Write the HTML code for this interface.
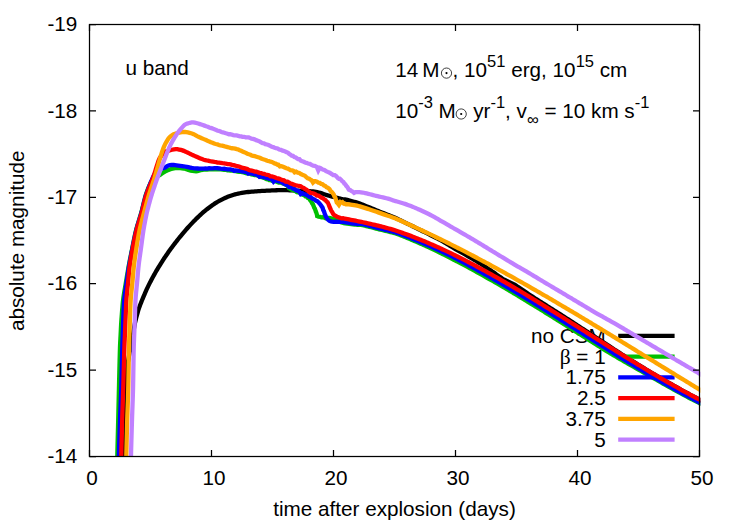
<!DOCTYPE html>
<html><head><meta charset="utf-8"><title>u band light curves</title>
<style>
html,body{margin:0;padding:0;background:#fff;}
body{width:747px;height:523px;overflow:hidden;font-family:"Liberation Sans",sans-serif;}
svg{display:block;}
text{font-family:"Liberation Sans",sans-serif;font-size:20.7px;fill:#000;}
.c{fill:none;stroke-width:4.3;stroke-linejoin:miter;stroke-miterlimit:10;stroke-linecap:butt;}
.k{fill:none;stroke-width:4.3;stroke-linecap:butt;}
.ax{stroke:#000;stroke-width:1.25;fill:none;}
</style></head><body>
<svg width="747" height="523" viewBox="0 0 747 523">
<defs><clipPath id="cp"><rect x="89.5" y="24.5" width="610.8" height="432.5"/></clipPath></defs>
<rect x="0" y="0" width="747" height="523" fill="#fff"/>

<text x="77.3" y="463.2" text-anchor="end">-14</text>
<text x="77.3" y="376.8" text-anchor="end">-15</text>
<text x="77.3" y="290.4" text-anchor="end">-16</text>
<text x="77.3" y="204.0" text-anchor="end">-17</text>
<text x="77.3" y="117.6" text-anchor="end">-18</text>
<text x="77.3" y="31.2" text-anchor="end">-19</text>
<text x="92.0" y="484.8" text-anchor="middle">0</text>
<text x="214.0" y="484.8" text-anchor="middle">10</text>
<text x="336.0" y="484.8" text-anchor="middle">20</text>
<text x="458.0" y="484.8" text-anchor="middle">30</text>
<text x="580.0" y="484.8" text-anchor="middle">40</text>
<text x="702.0" y="484.8" text-anchor="middle">50</text>
<text x="394.5" y="516.0" text-anchor="middle">time after explosion (days)</text>
<text transform="translate(23.9 240.8) rotate(-90)" text-anchor="middle">absolute magnitude</text>
<text x="125.4" y="75.2">u band</text>
<text x="395.2" y="77.2">14</text><text x="422.3" y="77.2">M</text><circle cx="446.5" cy="73.1" r="5.1" fill="none" stroke="#000" stroke-width="0.75"/><circle cx="446.5" cy="73.1" r="1.1" fill="#000"/>
<text x="452.6" y="77.2">, 10<tspan font-size="16.5" dy="-10.2">51</tspan><tspan dy="10.2"> erg, 10</tspan><tspan font-size="16.5" dy="-10.2">15</tspan><tspan dy="10.2"> cm</tspan></text>
<text x="395.2" y="117.7">10<tspan font-size="16.5" dy="-10.2">-3</tspan><tspan dy="10.2"> M</tspan></text><circle cx="461.2" cy="114.0" r="5.1" fill="none" stroke="#000" stroke-width="0.75"/><circle cx="461.2" cy="114.0" r="1.1" fill="#000"/>
<text x="473.2" y="117.7">yr<tspan font-size="16.5" dy="-10.2">-1</tspan><tspan dy="10.2">, v</tspan><tspan font-size="16.5" dy="7.4">∞</tspan><tspan dy="-7.4"> = 10 km s</tspan><tspan font-size="16.5" dy="-10.2">-1</tspan></text>
<text x="605.7" y="342.7" text-anchor="end">no CSM</text>
<path class="k" stroke="#000000" d="M618.2 335.8H674.6"/>
<path class="c" clip-path="url(#cp)" stroke="#000000" d="M123.60 475.00L123.61 474.21L123.61 473.20L123.62 471.99L123.63 470.61L123.64 469.08L123.66 467.41L123.67 465.64L123.69 463.79L123.71 461.88L123.74 459.93L123.77 457.96L123.80 456.00L123.82 454.92L123.84 453.73L123.87 452.43L123.90 451.04L123.93 449.56L123.96 448.01L123.99 446.39L124.03 444.72L124.06 443.00L124.10 441.25L124.14 439.48L124.18 437.69L124.22 435.90L124.26 434.11L124.30 432.34L124.34 430.60L124.38 428.89L124.42 427.23L124.46 425.63L124.49 424.10L124.53 422.64L124.57 421.27L124.60 420.00L124.64 418.49L124.69 416.92L124.73 415.30L124.78 413.63L124.83 411.94L124.89 410.22L124.94 408.48L124.99 406.75L125.05 405.01L125.11 403.29L125.16 401.60L125.22 399.93L125.28 398.31L125.33 396.74L125.39 395.24L125.44 393.80L125.50 392.44L125.55 391.17L125.60 390.00L125.67 388.35L125.75 386.67L125.83 384.99L125.91 383.30L126.00 381.62L126.09 379.97L126.18 378.34L126.28 376.77L126.38 375.25L126.48 373.81L126.58 372.44L126.69 371.17L126.80 370.00L126.98 368.37L127.20 366.70L127.45 365.02L127.72 363.35L128.00 361.71L128.27 360.13L128.54 358.64L128.78 357.25L129.00 356.00L129.27 354.42L129.57 352.74L129.88 351.03L130.19 349.34L130.48 347.74L130.76 346.27L131.00 345.00L131.31 343.43L131.62 341.90L131.94 340.36L132.27 338.75L132.60 337.00L132.80 335.85L133.02 334.49L133.26 332.96L133.52 331.33L133.78 329.64L134.06 327.95L134.34 326.31L134.62 324.77L134.90 323.40L135.20 322.04L135.56 320.54L135.95 318.95L136.37 317.32L136.80 315.68L137.23 314.08L137.65 312.57L138.04 311.20L138.40 310.00L138.93 308.35L139.51 306.70L140.12 305.05L140.75 303.43L141.38 301.84L142.00 300.30L142.51 299.06L143.10 297.64L143.74 296.11L144.43 294.52L145.12 292.92L145.79 291.38L146.43 289.95L147.00 288.70L147.64 287.34L148.34 285.89L149.07 284.40L149.82 282.90L150.58 281.42L151.31 280.01L152.00 278.70L152.63 277.53L153.34 276.24L154.10 274.87L154.89 273.45L155.70 272.03L156.50 270.64L157.28 269.31L158.00 268.10L158.75 266.87L159.59 265.51L160.50 264.06L161.45 262.56L162.40 261.07L163.33 259.64L164.21 258.30L165.00 257.10L165.78 255.94L166.63 254.71L167.53 253.42L168.45 252.11L169.37 250.81L170.29 249.54L171.17 248.33L172.00 247.20L172.86 246.05L173.83 244.78L174.87 243.42L175.95 242.02L177.03 240.63L178.09 239.28L179.09 238.03L180.00 236.90L180.90 235.80L181.89 234.61L182.93 233.36L184.00 232.10L185.07 230.85L186.11 229.64L187.10 228.51L188.00 227.50L189.03 226.36L190.16 225.15L191.34 223.88L192.55 222.61L193.76 221.36L194.92 220.18L196.00 219.10L196.97 218.16L198.04 217.12L199.20 216.02L200.39 214.90L201.60 213.78L202.80 212.70L203.94 211.70L205.00 210.80L206.09 209.92L207.30 208.96L208.60 207.96L209.95 206.95L211.30 205.95L212.62 205.01L213.87 204.15L215.00 203.40L216.30 202.60L217.73 201.76L219.23 200.91L220.77 200.09L222.27 199.31L223.70 198.61L225.00 198.00L226.30 197.44L227.73 196.87L229.23 196.30L230.77 195.75L232.27 195.24L233.70 194.78L235.00 194.40L236.53 194.01L238.22 193.62L240.00 193.26L241.78 192.93L243.47 192.64L245.00 192.40L246.53 192.19L248.22 192.00L250.00 191.83L251.78 191.67L253.47 191.52L255.00 191.40L256.53 191.29L258.22 191.18L260.00 191.07L261.78 190.97L263.47 190.88L265.00 190.80L266.53 190.72L268.22 190.62L270.00 190.53L271.78 190.44L273.47 190.36L275.00 190.30L276.48 190.25L278.06 190.19L279.73 190.14L281.46 190.10L283.23 190.08L285.00 190.10L286.30 190.13L287.82 190.19L289.49 190.26L291.28 190.34L293.12 190.43L294.96 190.53L296.76 190.62L298.45 190.71L300.00 190.80L301.39 190.87L302.92 190.93L304.56 190.99L306.26 191.05L307.99 191.12L309.71 191.21L311.39 191.32L312.99 191.45L314.47 191.61L315.80 191.80L317.22 192.09L318.72 192.47L320.27 192.92L321.84 193.41L323.42 193.93L324.96 194.45L326.46 194.95L327.88 195.41L329.20 195.80L330.58 196.18L332.15 196.59L333.83 197.03L335.57 197.48L337.28 197.92L338.90 198.32L340.35 198.69L341.58 198.98L342.50 199.20L343.82 199.31L345.00 199.40L345.97 199.63L347.26 199.95L348.80 200.33L350.49 200.76L352.24 201.22L353.97 201.70L355.59 202.16L357.00 202.60L358.36 203.07L359.85 203.62L361.43 204.22L363.05 204.86L364.67 205.51L366.25 206.15L367.74 206.75L369.10 207.30L370.46 207.84L371.94 208.45L373.50 209.09L375.10 209.74L376.70 210.40L378.26 211.05L379.74 211.65L381.10 212.20L382.49 212.75L384.05 213.37L385.72 214.03L387.43 214.70L389.10 215.35L390.66 215.97L392.05 216.53L393.20 217.00L394.57 217.58L395.66 218.05L396.74 218.54L398.09 219.18L400.00 220.10L400.91 220.54L402.01 221.07L403.25 221.68L404.63 222.35L406.12 223.08L407.68 223.84L409.30 224.63L410.94 225.44L412.59 226.25L414.22 227.05L415.80 227.83L417.31 228.57L418.72 229.26L420.00 229.90L421.27 230.53L422.63 231.20L424.07 231.90L425.58 232.64L427.12 233.40L428.69 234.17L430.27 234.95L431.83 235.72L433.37 236.49L434.86 237.24L436.28 237.96L437.63 238.65L438.87 239.30L440.00 239.90L441.38 240.66L442.81 241.47L444.26 242.32L445.73 243.20L447.20 244.08L448.64 244.96L450.05 245.82L451.41 246.65L452.70 247.43L453.90 248.15L455.00 248.80L456.31 249.55L457.66 250.33L459.05 251.11L460.45 251.90L461.85 252.68L463.22 253.45L464.55 254.20L465.82 254.92L467.00 255.60L468.20 256.30L469.51 257.06L470.90 257.88L472.33 258.72L473.78 259.58L475.21 260.43L476.60 261.26L477.90 262.06L479.10 262.80L480.29 263.55L481.58 264.38L482.94 265.26L484.34 266.17L485.75 267.10L487.15 268.03L488.51 268.93L489.80 269.80L491.00 270.60L492.21 271.43L493.52 272.35L494.92 273.35L496.37 274.38L497.84 275.42L499.28 276.43L500.68 277.38L502.00 278.25L503.20 279.00L504.53 279.75L505.94 280.47L507.43 281.18L508.95 281.89L510.49 282.61L512.03 283.36L513.54 284.14L515.00 284.96L516.11 285.64L517.35 286.44L518.69 287.33L520.11 288.29L521.58 289.29L523.08 290.32L524.57 291.35L526.04 292.35L527.45 293.32L528.78 294.22L530.00 295.03L531.21 295.82L532.51 296.66L533.89 297.55L535.31 298.46L536.77 299.39L538.23 300.32L539.69 301.25L541.11 302.15L542.49 303.02L543.79 303.85L545.00 304.62L546.21 305.39L547.51 306.21L548.89 307.08L550.31 307.98L551.77 308.90L553.23 309.82L554.69 310.74L556.11 311.64L557.49 312.51L558.79 313.34L560.00 314.11L561.21 314.89L562.51 315.72L563.89 316.61L565.31 317.53L566.77 318.47L568.23 319.42L569.69 320.36L571.11 321.29L572.49 322.18L573.79 323.02L575.00 323.81L576.21 324.60L577.51 325.44L578.89 326.33L580.31 327.26L581.77 328.21L583.23 329.16L584.69 330.10L586.11 331.03L587.49 331.92L588.79 332.77L590.00 333.56L591.21 334.35L592.51 335.19L593.89 336.09L595.31 337.01L596.77 337.96L598.23 338.91L599.69 339.86L601.11 340.79L602.49 341.68L603.79 342.53L605.00 343.32L606.21 344.11L607.51 344.97L608.89 345.87L610.31 346.81L611.77 347.77L613.23 348.74L614.69 349.69L616.11 350.63L617.49 351.53L618.79 352.38L620.00 353.16L621.21 353.94L622.51 354.77L623.89 355.65L625.31 356.55L626.77 357.47L628.23 358.40L629.69 359.31L631.11 360.21L632.49 361.07L633.79 361.89L635.00 362.64L636.21 363.39L637.51 364.20L638.89 365.05L640.31 365.92L641.77 366.82L643.23 367.71L644.69 368.60L646.11 369.47L647.49 370.30L648.79 371.09L650.00 371.82L651.21 372.54L652.51 373.32L653.89 374.13L655.31 374.97L656.77 375.83L658.23 376.69L659.69 377.54L661.11 378.37L662.49 379.17L663.79 379.92L665.00 380.62L666.21 381.32L667.51 382.06L668.89 382.85L670.31 383.66L671.77 384.49L673.23 385.32L674.69 386.14L676.11 386.94L677.49 387.71L678.79 388.44L680.00 389.11L681.22 389.79L682.56 390.52L683.98 391.30L685.46 392.10L686.96 392.92L688.46 393.73L689.94 394.53L691.36 395.29L692.69 396.01L693.92 396.66L695.00 397.24L696.47 398.01L698.05 398.84L699.69 399.69L701.30 400.52L702.81 401.30L704.14 401.98L705.23 402.54L706.00 402.94"/>
<text x="605.7" y="363.5" text-anchor="end"><tspan font-family="Liberation Serif" font-size="21.5">β</tspan> = 1</text>
<path class="k" stroke="#00c000" d="M618.2 356.6H674.6"/>
<path class="c" clip-path="url(#cp)" stroke="#00c000" d="M117.20 475.00L117.20 474.21L117.20 473.20L117.20 471.99L117.20 470.61L117.20 469.08L117.20 467.41L117.21 465.64L117.21 463.79L117.23 461.88L117.24 459.93L117.27 457.96L117.30 456.00L117.32 454.92L117.35 453.73L117.37 452.43L117.41 451.04L117.44 449.56L117.48 448.01L117.52 446.39L117.56 444.72L117.60 443.00L117.65 441.25L117.69 439.48L117.74 437.69L117.79 435.90L117.84 434.11L117.88 432.34L117.93 430.60L117.97 428.89L118.02 427.23L118.06 425.63L118.10 424.10L118.13 422.64L118.17 421.27L118.20 420.00L118.24 418.51L118.27 417.00L118.31 415.48L118.34 413.93L118.38 412.37L118.42 410.80L118.45 409.21L118.49 407.62L118.53 406.02L118.56 404.41L118.60 402.80L118.64 401.18L118.67 399.57L118.71 397.96L118.75 396.35L118.79 394.75L118.82 393.16L118.86 391.57L118.90 390.00L118.93 388.75L118.96 387.40L119.00 385.94L119.03 384.40L119.07 382.78L119.11 381.09L119.16 379.35L119.20 377.56L119.24 375.73L119.29 373.88L119.33 372.01L119.38 370.14L119.42 368.27L119.47 366.42L119.51 364.59L119.56 362.80L119.60 361.05L119.64 359.37L119.69 357.74L119.73 356.20L119.77 354.74L119.80 353.38L119.84 352.13L119.87 351.00L119.90 350.00L119.98 347.57L120.06 345.45L120.14 343.59L120.22 341.94L120.30 340.44L120.38 339.05L120.45 337.71L120.53 336.38L120.60 335.00L120.67 333.53L120.75 331.96L120.82 330.32L120.90 328.63L120.99 326.90L121.08 325.15L121.18 323.40L121.29 321.68L121.40 320.00L121.49 318.78L121.59 317.41L121.70 315.92L121.82 314.34L121.94 312.69L122.07 310.99L122.21 309.28L122.36 307.57L122.50 305.90L122.65 304.28L122.80 302.74L122.95 301.30L123.10 300.00L123.29 298.50L123.51 296.92L123.75 295.29L124.02 293.61L124.29 291.91L124.57 290.21L124.86 288.54L125.14 286.89L125.41 285.31L125.66 283.81L125.90 282.40L126.13 280.99L126.39 279.48L126.65 277.88L126.93 276.23L127.22 274.55L127.51 272.85L127.80 271.17L128.09 269.52L128.37 267.92L128.64 266.41L128.90 265.00L129.17 263.58L129.46 262.06L129.77 260.45L130.10 258.77L130.44 257.06L130.79 255.34L131.13 253.63L131.47 251.95L131.80 250.34L132.11 248.82L132.40 247.40L132.69 245.99L132.99 244.48L133.31 242.88L133.64 241.23L133.99 239.55L134.33 237.85L134.69 236.17L135.04 234.52L135.40 232.92L135.75 231.41L136.10 230.00L136.47 228.58L136.90 227.06L137.37 225.45L137.87 223.77L138.39 222.06L138.92 220.34L139.45 218.63L139.96 216.95L140.45 215.34L140.90 213.82L141.30 212.40L141.69 210.97L142.09 209.41L142.50 207.75L142.93 206.03L143.36 204.28L143.79 202.53L144.22 200.82L144.64 199.17L145.04 197.63L145.43 196.23L145.80 195.00L146.33 193.38L146.92 191.70L147.55 189.99L148.20 188.31L148.85 186.73L149.46 185.28L150.02 184.02L150.50 183.00L151.39 181.45L152.29 180.25L153.17 179.29L154.00 178.50L155.31 177.53L156.80 176.67L158.00 176.00L159.19 175.31L160.40 174.60L161.62 173.79L163.13 172.77L164.50 171.90L165.80 171.19L167.21 170.48L168.50 169.90L169.79 169.42L171.21 168.96L172.50 168.60L173.74 168.30L175.12 168.03L176.50 167.90L178.22 167.99L180.26 168.21L181.90 168.40L183.51 168.50L185.00 168.70L186.20 169.12L187.65 169.70L189.20 170.20L190.65 170.54L192.47 170.91L194.36 171.20L196.00 171.30L197.43 171.08L198.95 170.64L200.64 170.15L202.60 169.80L203.84 169.69L205.36 169.63L207.10 169.50L208.96 169.34L210.86 169.20L212.73 169.27L214.47 169.33L216.00 169.18L217.48 169.36L219.08 169.19L220.77 169.47L222.50 169.51L224.23 169.78L225.92 169.99L227.52 170.26L229.00 170.31L230.49 170.62L232.14 170.63L233.88 170.79L235.68 171.18L237.48 171.56L239.23 171.84L240.89 171.83L242.40 172.19L243.73 172.44L245.18 172.83L246.72 173.32L248.30 173.38L249.90 173.62L251.48 174.40L253.02 174.75L254.47 175.07L255.80 175.06L257.15 175.58L258.63 176.03L260.20 176.97L261.83 177.12L263.46 177.71L265.05 178.34L266.57 179.20L267.97 179.33L269.20 180.18L270.73 180.21L272.35 180.80L274.01 180.89L275.65 181.31L277.22 182.02L278.65 182.46L279.90 182.33L281.63 183.02L283.49 183.57L285.29 184.44L286.83 185.31L287.90 186.01L288.45 187.31L289.00 188.40L290.09 188.81L291.66 189.73L293.49 190.28L295.35 190.99L297.00 192.15L298.19 192.41L299.59 192.62L301.10 194.04L302.63 194.79L304.08 195.08L305.37 196.24L306.40 196.19L307.86 197.97L309.19 198.66L310.35 200.54L311.30 201.64L312.14 203.27L312.95 204.37L313.69 206.31L314.30 207.97L314.85 208.63L315.41 210.13L315.91 211.83L316.30 212.59L316.86 214.50L317.20 215.89L317.20 216.17L318.53 216.73L320.30 216.97L321.50 217.41L322.92 217.28L324.40 217.65L325.73 218.22L327.38 218.01L329.06 218.02L330.50 218.20L332.25 218.73L334.11 218.89L335.90 219.30L336.97 219.82L338.14 220.57L339.44 221.41L340.89 222.20L342.50 222.80L343.77 223.09L345.39 223.37L347.23 223.65L349.19 223.91L351.16 224.15L353.00 224.37L354.62 224.55L355.90 224.70L357.69 224.83L359.09 224.83L360.57 224.89L362.60 225.20L363.62 225.42L364.85 225.70L366.27 226.04L367.82 226.43L369.46 226.85L371.16 227.28L372.87 227.72L374.55 228.16L376.16 228.58L377.66 228.96L379.00 229.30L380.44 229.65L382.00 230.02L383.65 230.41L385.35 230.81L387.07 231.21L388.79 231.63L390.47 232.05L392.09 232.47L393.61 232.89L395.00 233.31L396.37 233.76L397.84 234.28L399.37 234.85L400.95 235.46L402.55 236.09L404.15 236.73L405.72 237.37L407.23 237.99L408.67 238.58L410.00 239.13L411.34 239.68L412.78 240.29L414.31 240.94L415.89 241.62L417.50 242.31L419.11 243.01L420.69 243.71L422.22 244.38L423.66 245.03L425.00 245.63L426.34 246.24L427.78 246.91L429.31 247.62L430.89 248.36L432.50 249.11L434.11 249.88L435.69 250.63L437.22 251.37L438.66 252.07L440.00 252.72L441.21 253.32L442.51 253.97L443.89 254.66L445.31 255.38L446.77 256.13L448.23 256.88L449.69 257.62L451.11 258.36L452.49 259.07L453.79 259.74L455.00 260.37L456.21 261.00L457.51 261.68L458.89 262.40L460.31 263.15L461.77 263.91L463.23 264.69L464.69 265.46L466.11 266.22L467.49 266.95L468.79 267.65L470.00 268.30L471.21 268.96L472.51 269.67L473.89 270.42L475.31 271.21L476.77 272.01L478.23 272.82L479.69 273.63L481.11 274.43L482.49 275.19L483.79 275.92L485.00 276.60L486.21 277.28L487.51 278.02L488.89 278.79L490.31 279.60L491.77 280.42L493.23 281.26L494.69 282.09L496.11 282.90L497.49 283.69L498.79 284.44L500.00 285.14L501.21 285.85L502.51 286.61L503.89 287.41L505.31 288.25L506.77 289.11L508.23 289.98L509.69 290.84L511.11 291.69L512.49 292.51L513.79 293.29L515.00 294.01L516.21 294.74L517.51 295.52L518.89 296.34L520.31 297.20L521.77 298.08L523.23 298.96L524.69 299.84L526.11 300.71L527.49 301.54L528.79 302.33L530.00 303.07L531.21 303.81L532.51 304.61L533.89 305.45L535.31 306.32L536.77 307.22L538.23 308.12L539.69 309.02L541.11 309.89L542.49 310.74L543.79 311.55L545.00 312.30L546.21 313.05L547.51 313.86L548.89 314.72L550.31 315.61L551.77 316.52L553.23 317.44L554.69 318.35L556.11 319.24L557.49 320.10L558.79 320.92L560.00 321.68L561.21 322.44L562.51 323.26L563.89 324.13L565.31 325.02L566.77 325.94L568.23 326.87L569.69 327.78L571.11 328.68L572.49 329.55L573.79 330.37L575.00 331.14L576.21 331.91L577.51 332.73L578.89 333.60L580.31 334.50L581.77 335.42L583.23 336.35L584.69 337.28L586.11 338.18L587.49 339.05L588.79 339.87L590.00 340.64L591.21 341.41L592.51 342.24L593.89 343.11L595.31 344.02L596.77 344.95L598.23 345.88L599.69 346.80L601.11 347.70L602.49 348.56L603.79 349.37L605.00 350.12L606.21 350.86L607.51 351.65L608.89 352.47L610.31 353.32L611.77 354.19L613.23 355.06L614.69 355.92L616.11 356.76L617.49 357.57L618.79 358.33L620.00 359.04L621.21 359.75L622.51 360.51L623.89 361.30L625.31 362.12L626.77 362.96L628.23 363.81L629.69 364.64L631.11 365.46L632.49 366.25L633.79 366.99L635.00 367.68L636.21 368.37L637.51 369.10L638.89 369.88L640.31 370.68L641.77 371.49L643.23 372.31L644.69 373.13L646.11 373.93L647.49 374.70L648.79 375.43L650.00 376.12L651.21 376.81L652.51 377.55L653.89 378.34L655.31 379.16L656.77 380.00L658.23 380.84L659.69 381.67L661.11 382.49L662.49 383.28L663.79 384.02L665.00 384.70L666.21 385.38L667.51 386.11L668.89 386.87L670.31 387.66L671.77 388.47L673.23 389.28L674.69 390.08L676.11 390.86L677.49 391.61L678.79 392.32L680.00 392.98L681.22 393.64L682.56 394.35L683.98 395.11L685.46 395.89L686.96 396.69L688.46 397.48L689.94 398.26L691.36 399.00L692.69 399.70L693.92 400.34L695.00 400.90L696.47 401.65L698.05 402.46L699.69 403.28L701.30 404.09L702.81 404.84L704.14 405.51L705.23 406.05L706.00 406.44"/>
<text x="605.7" y="384.3" text-anchor="end">1.75</text>
<path class="k" stroke="#0000ff" d="M618.2 377.4H674.6"/>
<path class="c" clip-path="url(#cp)" stroke="#0000ff" d="M118.80 475.00L118.80 474.21L118.80 473.20L118.80 471.99L118.79 470.61L118.79 469.08L118.79 467.41L118.79 465.64L118.80 463.79L118.81 461.88L118.83 459.93L118.86 457.96L118.90 456.00L118.92 454.92L118.95 453.73L118.99 452.43L119.02 451.04L119.07 449.56L119.11 448.01L119.16 446.39L119.20 444.72L119.26 443.00L119.31 441.25L119.36 439.48L119.42 437.69L119.48 435.90L119.53 434.11L119.59 432.34L119.65 430.60L119.70 428.89L119.76 427.23L119.81 425.63L119.86 424.10L119.91 422.64L119.96 421.27L120.00 420.00L120.05 418.51L120.11 417.00L120.17 415.48L120.23 413.93L120.30 412.37L120.36 410.80L120.43 409.21L120.50 407.62L120.57 406.02L120.64 404.41L120.71 402.80L120.78 401.18L120.85 399.57L120.91 397.96L120.97 396.35L121.04 394.75L121.09 393.16L121.15 391.57L121.20 390.00L121.24 388.75L121.28 387.40L121.32 385.94L121.36 384.40L121.40 382.78L121.45 381.09L121.49 379.35L121.54 377.56L121.58 375.73L121.63 373.88L121.67 372.01L121.71 370.14L121.76 368.27L121.80 366.42L121.85 364.59L121.89 362.80L121.93 361.05L121.97 359.37L122.01 357.74L122.04 356.20L122.08 354.74L122.11 353.38L122.14 352.13L122.17 351.00L122.20 350.00L122.27 347.57L122.33 345.45L122.39 343.59L122.45 341.94L122.50 340.44L122.55 339.05L122.60 337.71L122.65 336.38L122.70 335.00L122.75 333.53L122.80 331.96L122.85 330.32L122.90 328.63L122.95 326.90L123.01 325.15L123.07 323.40L123.13 321.68L123.20 320.00L123.25 318.78L123.31 317.41L123.36 315.92L123.43 314.34L123.49 312.69L123.56 310.99L123.64 309.28L123.72 307.57L123.80 305.90L123.89 304.28L123.99 302.74L124.09 301.30L124.20 300.00L124.35 298.50L124.53 296.92L124.73 295.29L124.96 293.61L125.19 291.91L125.44 290.21L125.69 288.54L125.93 286.89L126.17 285.31L126.40 283.81L126.60 282.40L126.80 280.99L127.02 279.48L127.24 277.88L127.48 276.23L127.72 274.55L127.97 272.85L128.22 271.17L128.47 269.52L128.72 267.92L128.96 266.41L129.20 265.00L129.45 263.58L129.73 262.06L130.03 260.45L130.34 258.77L130.67 257.06L131.01 255.34L131.35 253.63L131.68 251.95L132.01 250.34L132.31 248.82L132.60 247.40L132.88 245.99L133.19 244.48L133.51 242.88L133.84 241.23L134.18 239.55L134.53 237.85L134.88 236.17L135.24 234.52L135.60 232.92L135.95 231.41L136.30 230.00L136.67 228.58L137.10 227.06L137.57 225.45L138.07 223.77L138.59 222.06L139.12 220.34L139.65 218.63L140.16 216.95L140.65 215.34L141.10 213.82L141.50 212.40L141.88 210.99L142.26 209.48L142.65 207.88L143.05 206.23L143.46 204.55L143.87 202.85L144.28 201.17L144.70 199.52L145.13 197.92L145.56 196.41L146.00 195.00L146.45 193.68L146.97 192.21L147.55 190.63L148.18 188.97L148.83 187.28L149.50 185.59L150.16 183.93L150.81 182.34L151.42 180.86L151.98 179.52L152.48 178.35L152.90 177.40L153.95 175.24L154.88 173.65L155.72 172.46L156.50 171.50L157.60 170.44L158.81 169.62L160.00 169.00L161.40 168.57L163.05 168.22L164.50 167.80L165.78 167.07L167.15 166.16L168.50 165.50L169.94 165.16L171.68 164.98L173.80 165.00L175.01 165.10L176.56 165.28L178.32 165.51L180.17 165.76L181.98 166.03L183.63 166.28L185.00 166.50L186.68 166.82L188.40 167.21L190.10 167.60L191.74 167.95L193.30 168.20L194.63 168.33L196.10 168.44L197.68 168.51L199.31 168.56L200.97 168.59L202.60 168.60L203.95 168.58L205.52 168.41L207.27 168.56L209.10 168.28L210.96 168.41L212.78 168.34L214.48 168.11L216.00 168.20L217.48 168.23L219.08 168.34L220.77 168.60L222.50 168.78L224.23 168.77L225.92 169.05L227.52 169.29L229.00 169.43L230.49 169.44L232.14 169.76L232.70 169.85L234.20 170.89L235.70 170.47L237.48 170.70L239.23 170.92L240.89 171.03L242.40 171.59L243.73 171.54L245.18 171.89L246.80 172.17L248.30 173.65L249.80 173.14L251.48 173.50L253.02 173.94L254.47 174.25L255.80 174.58L257.15 174.75L258.00 175.21L259.50 176.79L261.00 176.24L261.83 176.43L263.46 177.09L265.05 177.53L266.57 178.01L267.97 178.38L269.20 178.78L270.73 179.15L272.10 179.23L273.60 181.57L275.10 180.20L275.65 180.25L277.22 180.86L278.65 181.44L279.90 181.60L281.29 181.99L282.77 182.82L284.26 183.73L285.66 184.39L286.90 185.12L287.50 185.40L289.00 187.07L290.50 186.93L291.90 187.57L293.03 188.73L294.37 188.79L295.75 190.17L297.00 190.60L298.25 190.99L299.20 191.49L300.70 194.07L302.20 193.12L302.50 193.17L303.66 193.99L305.02 194.33L306.46 194.97L307.85 195.69L309.10 196.62L310.36 196.79L311.78 198.27L313.25 198.95L314.63 199.50L315.80 200.68L317.19 201.17L318.66 202.53L320.03 204.00L321.10 205.51L321.89 206.68L322.59 207.69L323.21 210.12L323.80 210.89L324.28 212.17L324.79 213.98L325.33 215.05L325.90 216.74L326.50 217.64L327.31 218.95L328.28 219.89L329.48 220.83L331.00 221.35L332.17 221.67L333.65 221.94L335.37 221.76L337.21 221.87L339.07 221.66L340.87 221.80L342.50 221.58L343.97 222.12L345.68 222.40L347.54 222.67L349.45 222.96L351.34 223.25L353.10 223.52L354.65 223.74L355.90 223.90L357.69 223.99L359.09 223.93L360.57 223.93L362.60 224.20L363.62 224.41L364.85 224.69L366.27 225.03L367.82 225.42L369.46 225.84L371.16 226.27L372.87 226.72L374.55 227.16L376.16 227.57L377.66 227.96L379.00 228.30L380.44 228.66L382.00 229.03L383.65 229.42L385.35 229.82L387.07 230.23L388.79 230.65L390.47 231.07L392.09 231.49L393.61 231.90L395.00 232.31L396.37 232.75L397.84 233.24L399.37 233.78L400.95 234.35L402.55 234.95L404.15 235.55L405.72 236.15L407.23 236.73L408.67 237.29L410.00 237.81L411.34 238.34L412.78 238.91L414.31 239.53L415.89 240.17L417.50 240.83L419.11 241.49L420.69 242.15L422.22 242.79L423.66 243.41L425.00 243.98L426.34 244.56L427.78 245.20L429.31 245.87L430.89 246.58L432.50 247.30L434.11 248.03L435.69 248.75L437.22 249.46L438.66 250.12L440.00 250.75L441.34 251.38L442.78 252.07L444.31 252.80L445.89 253.57L447.50 254.35L449.11 255.14L450.69 255.91L452.22 256.67L453.66 257.39L455.00 258.07L456.21 258.69L457.51 259.36L458.89 260.08L460.31 260.82L461.77 261.59L463.23 262.37L464.69 263.14L466.11 263.90L467.49 264.64L468.79 265.34L470.00 265.99L471.21 266.65L472.51 267.36L473.89 268.11L475.31 268.89L476.77 269.70L478.23 270.51L479.69 271.32L481.11 272.11L482.49 272.87L483.79 273.60L485.00 274.28L486.21 274.96L487.51 275.69L488.89 276.47L490.31 277.27L491.77 278.10L493.23 278.93L494.69 279.76L496.11 280.57L497.49 281.36L498.79 282.11L500.00 282.81L501.21 283.51L502.51 284.28L503.89 285.08L505.31 285.92L506.77 286.78L508.23 287.65L509.69 288.51L511.11 289.35L512.49 290.17L513.79 290.95L515.00 291.67L516.21 292.39L517.51 293.18L518.89 294.00L520.31 294.86L521.77 295.73L523.23 296.62L524.69 297.50L526.11 298.36L527.49 299.19L528.79 299.98L530.00 300.72L531.21 301.46L532.51 302.25L533.89 303.10L535.31 303.97L536.77 304.86L538.23 305.76L539.69 306.66L541.11 307.54L542.49 308.38L543.79 309.19L545.00 309.94L546.21 310.69L547.51 311.50L548.89 312.36L550.31 313.25L551.77 314.15L553.23 315.07L554.69 315.98L556.11 316.87L557.49 317.73L558.79 318.55L560.00 319.31L561.21 320.07L562.51 320.89L563.89 321.75L565.31 322.65L566.77 323.57L568.23 324.49L569.69 325.41L571.11 326.31L572.49 327.17L573.79 328.00L575.00 328.76L576.21 329.53L577.51 330.35L578.89 331.22L580.31 332.12L581.77 333.04L583.23 333.97L584.69 334.89L586.11 335.79L587.49 336.66L588.79 337.48L590.00 338.25L591.21 339.02L592.51 339.84L593.89 340.71L595.31 341.61L596.77 342.53L598.23 343.45L599.69 344.37L601.11 345.27L602.49 346.14L603.79 346.96L605.00 347.72L606.21 348.48L607.51 349.30L608.89 350.17L610.31 351.06L611.77 351.97L613.23 352.89L614.69 353.81L616.11 354.70L617.49 355.55L618.79 356.36L620.00 357.11L621.21 357.85L622.51 358.65L623.89 359.49L625.31 360.36L626.77 361.24L628.23 362.13L629.69 363.01L631.11 363.87L632.49 364.70L633.79 365.48L635.00 366.21L636.21 366.94L637.51 367.72L638.89 368.54L640.31 369.39L641.77 370.25L643.23 371.12L644.69 371.99L646.11 372.83L647.49 373.64L648.79 374.41L650.00 375.12L651.21 375.83L652.51 376.59L653.89 377.39L655.31 378.21L656.77 379.06L658.23 379.90L659.69 380.74L661.11 381.56L662.49 382.35L663.79 383.09L665.00 383.78L666.21 384.47L667.51 385.20L668.89 385.97L670.31 386.77L671.77 387.59L673.23 388.40L674.69 389.21L676.11 390.00L677.49 390.76L678.79 391.48L680.00 392.14L681.22 392.81L682.56 393.53L683.98 394.29L685.46 395.08L686.96 395.88L688.46 396.69L689.94 397.47L691.36 398.22L692.69 398.93L693.92 399.57L695.00 400.14L696.47 400.90L698.05 401.72L699.69 402.55L701.30 403.37L702.81 404.13L704.14 404.80L705.23 405.35L706.00 405.74"/>
<text x="605.7" y="405.0" text-anchor="end">2.5</text>
<path class="k" stroke="#ff0000" d="M618.2 398.1H674.6"/>
<path class="c" clip-path="url(#cp)" stroke="#ff0000" d="M121.20 475.00L121.20 474.21L121.20 473.20L121.20 471.99L121.20 470.61L121.20 469.08L121.20 467.41L121.21 465.64L121.21 463.79L121.23 461.88L121.24 459.93L121.27 457.96L121.30 456.00L121.32 454.92L121.34 453.73L121.37 452.43L121.40 451.04L121.44 449.56L121.47 448.01L121.51 446.39L121.55 444.72L121.59 443.00L121.64 441.25L121.68 439.48L121.72 437.69L121.77 435.90L121.82 434.11L121.86 432.34L121.91 430.60L121.95 428.89L122.00 427.23L122.04 425.63L122.08 424.10L122.13 422.64L122.16 421.27L122.20 420.00L122.24 418.51L122.29 417.00L122.34 415.48L122.39 413.93L122.44 412.37L122.49 410.80L122.55 409.21L122.60 407.62L122.66 406.02L122.72 404.41L122.77 402.80L122.83 401.18L122.89 399.57L122.94 397.96L123.00 396.35L123.05 394.75L123.10 393.16L123.15 391.57L123.20 390.00L123.24 388.75L123.28 387.40L123.32 385.94L123.36 384.40L123.41 382.78L123.45 381.09L123.50 379.35L123.55 377.56L123.60 375.73L123.65 373.88L123.70 372.01L123.75 370.14L123.80 368.27L123.85 366.42L123.89 364.59L123.94 362.80L123.99 361.05L124.04 359.37L124.08 357.74L124.12 356.20L124.16 354.74L124.20 353.38L124.24 352.13L124.27 351.00L124.30 350.00L124.38 347.57L124.45 345.45L124.52 343.59L124.59 341.94L124.66 340.44L124.72 339.05L124.78 337.71L124.84 336.38L124.90 335.00L124.96 333.53L125.02 331.96L125.08 330.32L125.15 328.63L125.22 326.90L125.29 325.15L125.36 323.40L125.43 321.68L125.50 320.00L125.55 318.78L125.61 317.41L125.66 315.92L125.72 314.34L125.79 312.69L125.86 310.99L125.93 309.28L126.00 307.57L126.08 305.90L126.15 304.28L126.23 302.74L126.32 301.30L126.40 300.00L126.51 298.50L126.64 296.92L126.79 295.29L126.95 293.61L127.12 291.91L127.29 290.21L127.47 288.54L127.64 286.89L127.81 285.31L127.96 283.81L128.10 282.40L128.23 280.99L128.37 279.48L128.51 277.88L128.65 276.23L128.80 274.55L128.95 272.85L129.11 271.17L129.27 269.52L129.44 267.92L129.62 266.41L129.80 265.00L130.00 263.58L130.24 262.06L130.50 260.45L130.79 258.77L131.09 257.06L131.40 255.34L131.71 253.63L132.03 251.95L132.33 250.34L132.63 248.82L132.90 247.40L133.17 245.99L133.47 244.48L133.79 242.88L134.12 241.23L134.46 239.55L134.82 237.85L135.17 236.17L135.54 234.52L135.90 232.92L136.25 231.41L136.60 230.00L136.97 228.58L137.40 227.06L137.87 225.45L138.37 223.77L138.89 222.06L139.42 220.34L139.95 218.63L140.46 216.95L140.95 215.34L141.40 213.82L141.80 212.40L142.18 210.99L142.56 209.48L142.95 207.88L143.35 206.23L143.76 204.55L144.17 202.85L144.58 201.17L145.00 199.52L145.43 197.92L145.86 196.41L146.30 195.00L146.74 193.71L147.25 192.32L147.81 190.86L148.41 189.34L149.04 187.78L149.69 186.20L150.34 184.62L150.98 183.06L151.60 181.54L152.19 180.08L152.72 178.69L153.20 177.40L153.70 175.95L154.23 174.34L154.77 172.60L155.33 170.80L155.89 168.97L156.44 167.16L156.98 165.41L157.49 163.78L157.97 162.30L158.41 161.02L158.80 160.00L159.79 157.94L160.76 156.49L161.68 155.41L162.50 154.50L163.61 153.32L164.82 152.28L166.00 151.50L167.33 150.97L168.89 150.55L170.40 150.20L172.04 149.76L173.95 149.30L175.80 149.10L177.30 149.23L179.08 149.53L180.89 149.94L182.50 150.40L183.74 150.86L185.13 151.47L186.57 152.15L187.96 152.81L189.20 153.40L190.41 153.96L191.72 154.59L193.10 155.24L194.51 155.89L195.90 156.50L197.19 157.05L198.72 157.71L200.39 158.41L202.10 159.10L203.77 159.71L205.30 160.10L206.61 160.51L208.08 160.72L209.65 161.04L211.28 161.46L212.91 161.65L214.50 161.92L216.00 162.08L217.38 162.54L218.98 162.71L220.70 162.90L222.50 163.17L224.30 163.31L226.02 163.72L227.62 164.04L229.00 164.08L230.49 164.38L232.06 164.88L233.67 165.13L235.27 165.65L236.84 166.01L238.33 166.33L239.70 166.83L241.08 167.44L242.58 167.78L244.17 168.13L245.79 168.57L247.40 169.09L248.95 170.00L250.40 170.33L251.71 170.62L253.20 171.00L254.80 171.58L256.45 171.64L258.10 172.43L259.70 172.89L261.19 173.01L262.50 173.63L263.96 173.84L265.54 174.52L267.18 174.79L268.82 175.28L270.40 176.27L271.88 176.29L273.20 176.74L274.69 177.26L276.28 177.97L277.92 178.36L279.54 178.84L281.09 179.60L282.50 180.17L283.99 180.41L285.70 181.68L287.49 181.73L289.22 182.63L290.74 183.50L291.90 183.81L293.39 184.47L294.47 184.97L295.70 185.23L297.11 185.53L298.90 185.98L300.76 186.29L302.40 187.44L303.61 187.81L304.92 188.97L306.30 189.64L307.71 190.60L309.10 191.84L310.42 192.82L312.00 193.03L313.73 193.56L315.47 194.37L317.11 195.53L318.50 195.57L319.84 196.47L321.31 197.60L322.82 198.18L324.26 199.35L325.52 200.07L326.50 201.48L327.56 202.20L328.39 203.80L329.11 205.65L329.80 207.44L330.40 208.72L331.05 210.32L331.74 211.38L332.46 212.47L333.20 213.91L334.31 215.15L335.69 215.79L337.14 216.77L338.50 217.17L339.85 217.67L341.39 218.41L343.11 218.22L345.00 218.73L346.13 218.91L347.50 219.19L349.05 219.48L350.70 219.79L352.39 220.11L354.05 220.42L355.61 220.72L357.00 221.00L358.36 221.28L359.85 221.59L361.43 221.93L363.05 222.27L364.67 222.62L366.25 222.97L367.74 223.30L369.10 223.60L370.45 223.90L371.90 224.23L373.43 224.57L375.00 224.93L376.59 225.30L378.16 225.67L379.67 226.04L381.10 226.40L382.41 226.74L383.86 227.13L385.42 227.55L387.06 227.99L388.73 228.46L390.39 228.93L392.02 229.40L393.57 229.86L395.00 230.31L396.30 230.73L397.72 231.21L399.24 231.73L400.82 232.28L402.44 232.85L404.06 233.43L405.66 234.01L407.20 234.57L408.66 235.11L410.00 235.61L411.34 236.12L412.78 236.67L414.31 237.27L415.89 237.89L417.50 238.53L419.11 239.17L420.69 239.81L422.22 240.43L423.66 241.02L425.00 241.58L426.34 242.14L427.78 242.76L429.31 243.42L430.89 244.10L432.50 244.80L434.11 245.51L435.69 246.21L437.22 246.89L438.66 247.54L440.00 248.15L441.34 248.76L442.78 249.43L444.31 250.15L445.89 250.89L447.50 251.65L449.11 252.42L450.69 253.18L452.22 253.91L453.66 254.62L455.00 255.27L456.21 255.87L457.51 256.52L458.89 257.20L460.31 257.92L461.77 258.66L463.23 259.40L464.69 260.15L466.11 260.88L467.49 261.58L468.79 262.26L470.00 262.89L471.21 263.53L472.51 264.21L473.89 264.94L475.31 265.70L476.77 266.48L478.23 267.27L479.69 268.05L481.11 268.82L482.49 269.57L483.79 270.28L485.00 270.94L486.21 271.61L487.51 272.33L488.89 273.09L490.31 273.89L491.77 274.70L493.23 275.52L494.69 276.34L496.11 277.15L497.49 277.93L498.79 278.67L500.00 279.36L501.21 280.06L502.51 280.81L503.89 281.60L505.31 282.43L506.77 283.28L508.23 284.13L509.69 284.98L511.11 285.82L512.49 286.63L513.79 287.39L515.00 288.11L516.21 288.83L517.51 289.60L518.89 290.42L520.31 291.28L521.77 292.15L523.23 293.03L524.69 293.91L526.11 294.77L527.49 295.60L528.79 296.38L530.00 297.12L531.21 297.86L532.51 298.65L533.89 299.49L535.31 300.37L536.77 301.26L538.23 302.16L539.69 303.06L541.11 303.94L542.49 304.78L543.79 305.59L545.00 306.34L546.21 307.09L547.51 307.90L548.89 308.76L550.31 309.65L551.77 310.55L553.23 311.47L554.69 312.38L556.11 313.27L557.49 314.13L558.79 314.95L560.00 315.71L561.21 316.47L562.51 317.29L563.89 318.15L565.31 319.05L566.77 319.97L568.23 320.89L569.69 321.81L571.11 322.71L572.49 323.57L573.79 324.40L575.00 325.16L576.21 325.93L577.51 326.75L578.89 327.62L580.31 328.52L581.77 329.44L583.23 330.37L584.69 331.29L586.11 332.19L587.49 333.06L588.79 333.88L590.00 334.65L591.21 335.42L592.51 336.24L593.89 337.11L595.31 338.01L596.77 338.93L598.23 339.85L599.69 340.77L601.11 341.67L602.49 342.54L603.79 343.36L605.00 344.12L606.21 344.88L607.51 345.70L608.89 346.56L610.31 347.46L611.77 348.37L613.23 349.29L614.69 350.20L616.11 351.09L617.49 351.94L618.79 352.76L620.00 353.51L621.21 354.26L622.51 355.07L623.89 355.92L625.31 356.80L626.77 357.70L628.23 358.60L629.69 359.50L631.11 360.38L632.49 361.22L633.79 362.02L635.00 362.76L636.21 363.50L637.51 364.29L638.89 365.13L640.31 365.99L641.77 366.87L643.23 367.76L644.69 368.63L646.11 369.49L647.49 370.32L648.79 371.10L650.00 371.82L651.21 372.54L652.51 373.31L653.89 374.12L655.31 374.96L656.77 375.82L658.23 376.68L659.69 377.53L661.11 378.36L662.49 379.16L663.79 379.92L665.00 380.62L666.21 381.32L667.51 382.06L668.89 382.85L670.31 383.66L671.77 384.49L673.23 385.32L674.69 386.14L676.11 386.94L677.49 387.71L678.79 388.44L680.00 389.11L681.22 389.79L682.56 390.52L683.98 391.30L685.46 392.10L686.96 392.92L688.46 393.73L689.94 394.53L691.36 395.29L692.69 396.01L693.92 396.66L695.00 397.24L696.47 398.01L698.05 398.84L699.69 399.69L701.30 400.52L702.81 401.30L704.14 401.98L705.23 402.54L706.00 402.94"/>
<text x="605.7" y="425.8" text-anchor="end">3.75</text>
<path class="k" stroke="#ffa500" d="M618.2 418.9H674.6"/>
<path class="c" clip-path="url(#cp)" stroke="#ffa500" d="M126.20 475.00L126.20 474.21L126.20 473.20L126.20 471.99L126.20 470.61L126.20 469.08L126.20 467.41L126.21 465.64L126.21 463.79L126.23 461.88L126.24 459.93L126.27 457.96L126.30 456.00L126.32 454.92L126.34 453.73L126.37 452.43L126.40 451.04L126.44 449.56L126.47 448.01L126.51 446.39L126.55 444.72L126.59 443.00L126.64 441.25L126.68 439.48L126.72 437.69L126.77 435.90L126.82 434.11L126.86 432.34L126.91 430.60L126.95 428.89L127.00 427.23L127.04 425.63L127.08 424.10L127.13 422.64L127.16 421.27L127.20 420.00L127.24 418.51L127.29 417.00L127.34 415.48L127.39 413.93L127.45 412.37L127.51 410.80L127.56 409.21L127.62 407.62L127.68 406.02L127.74 404.41L127.80 402.80L127.86 401.18L127.91 399.57L127.97 397.96L128.02 396.35L128.07 394.75L128.12 393.16L128.16 391.57L128.20 390.00L128.23 388.75L128.26 387.40L128.29 385.94L128.32 384.40L128.35 382.78L128.38 381.09L128.41 379.35L128.44 377.56L128.47 375.73L128.50 373.88L128.53 372.01L128.56 370.14L128.59 368.27L128.62 366.42L128.65 364.59L128.68 362.80L128.71 361.05L128.73 359.37L128.76 357.74L128.79 356.20L128.81 354.74L128.83 353.38L128.86 352.13L128.88 351.00L128.90 350.00L128.96 347.57L129.02 345.45L129.07 343.59L129.13 341.94L129.19 340.44L129.25 339.05L129.30 337.71L129.35 336.38L129.40 335.00L129.45 333.53L129.50 331.96L129.55 330.32L129.61 328.63L129.66 326.90L129.72 325.15L129.78 323.40L129.84 321.68L129.90 320.00L129.94 318.78L129.99 317.41L130.04 315.92L130.09 314.34L130.15 312.69L130.21 310.99L130.27 309.28L130.33 307.57L130.40 305.90L130.47 304.28L130.54 302.74L130.62 301.30L130.70 300.00L130.81 298.50L130.94 296.92L131.09 295.29L131.25 293.61L131.42 291.91L131.60 290.21L131.77 288.54L131.94 286.89L132.11 285.31L132.26 283.81L132.40 282.40L132.53 280.99L132.66 279.48L132.80 277.88L132.94 276.23L133.08 274.55L133.23 272.85L133.38 271.17L133.53 269.52L133.69 267.92L133.84 266.41L134.00 265.00L134.17 263.58L134.37 262.06L134.58 260.45L134.81 258.77L135.05 257.06L135.29 255.34L135.54 253.63L135.79 251.95L136.04 250.34L136.28 248.82L136.50 247.40L136.73 245.99L136.97 244.48L137.23 242.88L137.51 241.23L137.80 239.55L138.09 237.85L138.39 236.17L138.70 234.52L139.00 232.92L139.30 231.41L139.60 230.00L139.92 228.58L140.28 227.06L140.67 225.45L141.10 223.77L141.54 222.06L141.99 220.34L142.44 218.63L142.88 216.95L143.31 215.34L143.72 213.82L144.10 212.40L144.47 210.99L144.88 209.48L145.30 207.88L145.75 206.23L146.20 204.55L146.66 202.85L147.13 201.17L147.59 199.52L148.04 197.92L148.48 196.41L148.90 195.00L149.30 193.71L149.75 192.32L150.23 190.86L150.73 189.34L151.26 187.78L151.79 186.20L152.33 184.62L152.86 183.06L153.37 181.54L153.85 180.08L154.30 178.69L154.70 177.40L155.13 175.96L155.60 174.37L156.08 172.67L156.58 170.90L157.08 169.10L157.57 167.31L158.05 165.58L158.50 163.94L158.91 162.44L159.28 161.11L159.60 160.00L160.19 157.96L160.72 156.15L161.21 154.55L161.66 153.12L162.10 151.80L162.68 150.13L163.33 148.37L164.01 146.65L164.70 145.10L165.36 143.81L166.16 142.33L167.03 140.83L167.87 139.46L168.60 138.40L169.79 137.05L171.08 135.89L172.30 135.00L173.63 134.29L175.14 133.67L176.50 133.20L177.78 132.87L179.18 132.60L180.50 132.40L181.86 132.18L183.42 131.98L185.10 132.00L186.33 132.18L187.87 132.47L189.53 132.85L191.14 133.27L192.50 133.70L193.70 134.21L194.95 134.85L196.25 135.57L197.60 136.30L199.00 137.00L200.18 137.54L201.63 138.19L203.23 138.90L204.90 139.63L206.53 140.25L208.03 141.06L209.30 141.44L210.88 142.19L212.47 142.72L214.09 143.47L215.74 144.01L217.40 144.36L218.76 145.03L220.37 145.41L222.14 145.71L223.99 146.20L225.81 146.70L227.51 147.12L229.00 147.53L230.43 147.92L231.97 148.27L233.58 148.37L235.21 148.65L236.81 149.15L238.32 149.54L239.70 150.21L241.08 150.74L242.58 151.49L244.17 152.16L245.79 152.89L247.40 153.74L248.95 154.32L250.40 154.74L251.71 155.43L253.20 155.95L254.80 156.21L256.45 156.71L258.10 157.20L259.70 157.64L261.19 158.48L262.50 159.07L263.97 159.50L265.56 159.96L267.22 160.77L268.88 161.10L270.47 161.68L271.93 162.02L273.20 162.60L274.60 163.44L276.09 163.84L277.58 164.76L278.40 164.72L279.90 166.42L281.40 166.17L283.09 166.78L284.70 167.54L286.31 168.30L287.90 168.60L289.10 169.30L290.52 170.23L292.06 170.48L293.10 170.67L294.60 172.31L296.10 171.68L297.75 172.68L299.32 172.96L300.87 174.03L302.40 174.73L303.53 175.15L304.86 175.76L306.30 177.09L307.76 178.36L309.16 178.78L310.40 179.61L311.50 180.12L313.00 182.59L314.50 181.13L315.32 181.10L317.00 181.66L318.50 182.69L319.75 182.82L321.17 183.98L322.65 184.26L324.10 185.51L325.41 186.02L326.50 187.14L327.95 187.89L329.39 189.03L330.72 191.00L331.80 192.01L332.73 193.17L333.64 194.35L334.48 196.38L335.30 197.67L336.80 202.55L337.40 202.87L338.90 204.86L340.40 202.30L340.90 202.68L342.40 202.02L343.90 203.65L345.00 203.78L345.97 204.28L347.26 204.22L348.80 204.42L350.49 204.65L352.24 204.89L353.97 205.15L355.59 205.42L357.00 205.70L358.36 206.03L359.85 206.43L361.43 206.89L363.05 207.38L364.67 207.88L366.25 208.38L367.74 208.86L369.10 209.30L370.45 209.74L371.90 210.22L373.43 210.74L375.00 211.28L376.59 211.83L378.16 212.37L379.67 212.90L381.10 213.40L382.41 213.85L383.86 214.34L385.42 214.87L387.06 215.43L388.73 216.00L390.39 216.59L392.02 217.17L393.57 217.74L395.00 218.30L396.30 218.83L397.72 219.43L399.24 220.09L400.82 220.78L402.44 221.50L404.06 222.23L405.66 222.95L407.20 223.65L408.66 224.31L410.00 224.92L411.34 225.53L412.78 226.18L414.31 226.88L415.89 227.61L417.50 228.35L419.11 229.09L420.69 229.83L422.22 230.54L423.66 231.21L425.00 231.84L426.34 232.47L427.78 233.16L429.31 233.88L430.89 234.64L432.50 235.41L434.11 236.18L435.69 236.95L437.22 237.69L438.66 238.39L440.00 239.04L441.34 239.70L442.78 240.41L444.31 241.16L445.89 241.94L447.50 242.74L449.11 243.54L450.69 244.33L452.22 245.10L453.66 245.83L455.00 246.50L456.21 247.11L457.51 247.78L458.89 248.48L460.31 249.20L461.77 249.95L463.23 250.70L464.69 251.45L466.11 252.18L467.49 252.89L468.79 253.57L470.00 254.20L471.21 254.83L472.51 255.51L473.89 256.24L475.31 256.99L476.77 257.75L478.23 258.53L479.69 259.30L481.11 260.06L482.49 260.79L483.79 261.48L485.00 262.13L486.21 262.78L487.51 263.48L488.89 264.22L490.31 264.99L491.77 265.78L493.23 266.58L494.69 267.37L496.11 268.14L497.49 268.89L498.79 269.61L500.00 270.27L501.21 270.94L502.51 271.65L503.89 272.41L505.31 273.20L506.77 274.01L508.23 274.82L509.69 275.63L511.11 276.43L512.49 277.19L513.79 277.92L515.00 278.60L516.21 279.28L517.51 280.01L518.89 280.79L520.31 281.59L521.77 282.42L523.23 283.25L524.69 284.07L526.11 284.88L527.49 285.67L528.79 286.41L530.00 287.10L531.21 287.79L532.51 288.54L533.89 289.33L535.31 290.15L536.77 290.99L538.23 291.83L539.69 292.67L541.11 293.50L542.49 294.29L543.79 295.05L545.00 295.75L546.21 296.46L547.51 297.21L548.89 298.02L550.31 298.85L551.77 299.70L553.23 300.56L554.69 301.41L556.11 302.25L557.49 303.06L558.79 303.83L560.00 304.54L561.21 305.26L562.51 306.03L563.89 306.84L565.31 307.68L566.77 308.55L568.23 309.42L569.69 310.28L571.11 311.13L572.49 311.95L573.79 312.73L575.00 313.45L576.21 314.17L577.51 314.95L578.89 315.78L580.31 316.63L581.77 317.50L583.23 318.38L584.69 319.25L586.11 320.11L587.49 320.94L588.79 321.72L590.00 322.45L591.21 323.18L592.51 323.97L593.89 324.80L595.31 325.66L596.77 326.54L598.23 327.43L599.69 328.31L601.11 329.18L602.49 330.01L603.79 330.80L605.00 331.54L606.21 332.28L607.51 333.07L608.89 333.91L610.31 334.78L611.77 335.67L613.23 336.56L614.69 337.45L616.11 338.32L617.49 339.16L618.79 339.96L620.00 340.70L621.21 341.44L622.51 342.24L623.89 343.08L625.31 343.95L626.77 344.85L628.23 345.75L629.69 346.64L631.11 347.51L632.49 348.36L633.79 349.16L635.00 349.90L636.21 350.64L637.51 351.45L638.89 352.29L640.31 353.17L641.77 354.06L643.23 354.96L644.69 355.86L646.11 356.74L647.49 357.58L648.79 358.38L650.00 359.13L651.21 359.88L652.51 360.68L653.89 361.52L655.31 362.40L656.77 363.29L658.23 364.20L659.69 365.09L661.11 365.97L662.49 366.81L663.79 367.61L665.00 368.36L666.21 369.11L667.51 369.91L668.89 370.76L670.31 371.63L671.77 372.53L673.23 373.43L674.69 374.33L676.11 375.21L677.49 376.05L678.79 376.85L680.00 377.60L681.22 378.35L682.56 379.17L683.98 380.04L685.46 380.95L686.96 381.87L688.46 382.79L689.94 383.70L691.36 384.57L692.69 385.39L693.92 386.14L695.00 386.80L696.47 387.70L698.05 388.67L699.69 389.67L701.30 390.65L702.81 391.57L704.14 392.39L705.23 393.05L706.00 393.52"/>
<text x="605.7" y="446.6" text-anchor="end">5</text>
<path class="k" stroke="#c080ff" d="M618.2 439.7H674.6"/>
<path class="c" clip-path="url(#cp)" stroke="#c080ff" d="M130.90 475.00L130.90 474.21L130.90 473.20L130.90 471.99L130.90 470.61L130.90 469.08L130.90 467.41L130.90 465.64L130.91 463.79L130.92 461.88L130.94 459.93L130.97 457.96L131.00 456.00L131.02 454.92L131.05 453.73L131.08 452.43L131.11 451.04L131.15 449.56L131.19 448.01L131.24 446.39L131.28 444.72L131.33 443.00L131.38 441.25L131.43 439.48L131.48 437.69L131.53 435.90L131.58 434.11L131.63 432.34L131.68 430.60L131.73 428.89L131.78 427.23L131.83 425.63L131.88 424.10L131.92 422.64L131.96 421.27L132.00 420.00L132.05 418.51L132.10 417.00L132.15 415.48L132.20 413.93L132.26 412.37L132.31 410.80L132.37 409.21L132.43 407.62L132.49 406.02L132.55 404.41L132.60 402.80L132.66 401.18L132.72 399.57L132.77 397.96L132.82 396.35L132.87 394.75L132.92 393.16L132.96 391.57L133.00 390.00L133.03 388.75L133.06 387.40L133.09 385.94L133.12 384.40L133.15 382.78L133.18 381.09L133.21 379.35L133.24 377.56L133.27 375.73L133.30 373.88L133.33 372.01L133.36 370.14L133.39 368.27L133.42 366.42L133.45 364.59L133.48 362.80L133.51 361.05L133.53 359.37L133.56 357.74L133.59 356.20L133.61 354.74L133.63 353.38L133.66 352.13L133.68 351.00L133.70 350.00L133.76 347.57L133.81 345.45L133.87 343.59L133.93 341.94L133.98 340.44L134.04 339.05L134.09 337.71L134.15 336.38L134.20 335.00L134.26 333.53L134.32 331.96L134.38 330.32L134.45 328.63L134.53 326.90L134.60 325.15L134.67 323.40L134.74 321.68L134.80 320.00L134.84 318.78L134.89 317.41L134.93 315.92L134.98 314.34L135.02 312.69L135.07 310.99L135.12 309.28L135.18 307.57L135.23 305.90L135.29 304.28L135.36 302.74L135.43 301.30L135.50 300.00L135.60 298.50L135.72 296.92L135.86 295.29L136.01 293.61L136.17 291.91L136.34 290.21L136.50 288.54L136.66 286.89L136.82 285.31L136.97 283.81L137.10 282.40L137.23 280.99L137.36 279.48L137.50 277.88L137.64 276.23L137.78 274.55L137.93 272.85L138.08 271.17L138.24 269.52L138.39 267.92L138.55 266.41L138.70 265.00L138.87 263.58L139.06 262.06L139.27 260.45L139.50 258.77L139.74 257.06L139.98 255.34L140.22 253.63L140.46 251.95L140.69 250.34L140.90 248.82L141.10 247.40L141.29 245.99L141.49 244.48L141.70 242.88L141.91 241.23L142.13 239.55L142.36 237.85L142.59 236.17L142.82 234.52L143.05 232.92L143.27 231.41L143.50 230.00L143.74 228.58L144.00 227.06L144.29 225.45L144.60 223.77L144.91 222.06L145.24 220.34L145.58 218.63L145.92 216.95L146.25 215.34L146.58 213.82L146.90 212.40L147.23 210.99L147.61 209.48L148.01 207.88L148.44 206.23L148.88 204.55L149.34 202.85L149.81 201.17L150.27 199.52L150.73 197.92L151.17 196.41L151.60 195.00L152.00 193.71L152.45 192.32L152.92 190.86L153.43 189.34L153.96 187.78L154.49 186.20L155.04 184.62L155.58 183.06L156.12 181.54L156.64 180.08L157.13 178.69L157.60 177.40L158.08 176.09L158.62 174.64L159.21 173.10L159.83 171.49L160.46 169.85L161.10 168.20L161.74 166.58L162.35 165.02L162.92 163.55L163.45 162.20L163.91 161.01L164.30 160.00L165.07 157.96L165.74 156.15L166.34 154.55L166.88 153.12L167.40 151.80L167.95 150.47L168.56 149.08L169.18 147.67L169.81 146.32L170.40 145.10L171.04 143.86L171.78 142.47L172.58 141.03L173.37 139.64L174.10 138.40L174.86 137.16L175.72 135.77L176.65 134.33L177.59 132.94L178.50 131.70L179.36 130.63L180.40 129.39L181.52 128.09L182.64 126.85L183.67 125.78L184.50 125.00L185.89 124.08L187.22 123.56L188.50 123.20L189.94 122.80L191.61 122.47L193.30 122.40L194.72 122.62L196.41 123.03L198.23 123.55L200.00 124.10L201.28 124.52L202.79 125.04L204.44 125.63L206.13 126.30L207.78 126.73L209.30 127.44L210.64 127.94L212.17 128.38L213.82 129.10L215.51 129.65L217.15 130.49L218.68 130.98L220.00 131.25L221.42 131.96L222.87 132.33L224.36 132.69L225.88 133.24L227.43 133.67L229.00 134.27L230.20 134.21L231.62 134.56L233.21 135.09L234.90 135.33L236.61 135.48L238.28 135.91L239.85 136.28L241.25 136.41L242.40 136.81L244.12 136.81L245.71 137.37L247.23 137.43L248.77 137.47L250.40 138.12L251.59 138.73L252.98 138.93L254.53 139.38L256.16 140.17L257.83 140.69L259.49 141.35L261.06 142.38L262.50 143.04L263.81 143.22L265.28 144.16L266.87 144.53L268.52 145.08L270.18 145.94L271.80 146.77L273.33 147.17L274.71 147.71L275.90 148.10L277.56 148.41L279.28 149.55L280.97 149.88L282.58 150.62L284.01 151.07L285.20 151.51L286.69 152.17L288.05 152.85L289.34 153.96L290.60 154.83L291.71 155.69L292.98 155.88L294.34 157.07L295.71 157.42L297.00 158.50L298.13 159.12L299.42 159.21L300.82 160.70L302.27 161.22L303.72 161.75L305.10 162.45L306.42 162.84L308.01 163.48L309.76 163.86L311.53 164.92L313.21 165.69L314.67 165.90L315.80 166.33L316.80 166.99L318.30 170.51L319.80 167.81L320.20 167.93L321.33 168.67L322.76 169.53L324.37 170.00L326.05 171.02L327.70 171.92L329.20 172.55L330.37 173.21L331.73 174.08L333.21 175.12L334.75 175.22L336.25 176.18L337.66 177.88L338.90 178.77L339.90 178.68L341.20 179.89L342.37 181.33L343.42 182.04L344.36 183.68L345.20 184.19L346.22 185.83L347.40 187.11L348.90 189.63L350.40 190.19L351.65 191.12L352.60 191.51L354.10 192.82L355.60 192.05L357.46 192.12L359.18 192.17L360.93 192.28L362.60 192.50L363.78 192.73L365.16 193.04L366.67 193.41L368.28 193.81L369.93 194.24L371.58 194.67L373.17 195.08L374.66 195.47L376.00 195.80L377.53 196.17L379.27 196.58L381.11 197.01L382.99 197.45L384.80 197.87L386.47 198.27L387.90 198.62L389.00 198.90L390.67 199.42L391.65 199.84L393.20 200.40L394.22 200.71L395.53 201.08L397.04 201.51L398.69 201.98L400.38 202.47L402.05 202.96L403.62 203.45L405.00 203.90L406.34 204.37L407.79 204.90L409.33 205.48L410.91 206.10L412.50 206.73L414.08 207.37L415.59 207.99L417.00 208.60L418.28 209.17L419.70 209.80L421.22 210.50L422.81 211.24L424.43 212.00L426.04 212.77L427.61 213.54L429.11 214.29L430.50 215.00L431.76 215.67L433.13 216.42L434.59 217.23L436.11 218.09L437.67 218.98L439.23 219.88L440.77 220.76L442.27 221.63L443.69 222.44L445.00 223.20L446.20 223.89L447.50 224.64L448.88 225.44L450.32 226.27L451.79 227.13L453.27 227.99L454.73 228.84L456.16 229.67L457.53 230.47L458.82 231.21L460.00 231.90L461.26 232.63L462.57 233.38L463.93 234.16L465.32 234.95L466.73 235.76L468.17 236.59L469.63 237.43L471.09 238.28L472.55 239.14L474.00 240.00L475.02 240.61L476.15 241.29L477.37 242.03L478.67 242.83L480.04 243.66L481.45 244.52L482.90 245.41L484.36 246.31L485.84 247.21L487.30 248.11L488.75 248.99L490.15 249.85L491.51 250.68L492.79 251.47L494.00 252.20L495.23 252.94L496.57 253.76L498.01 254.63L499.52 255.55L501.08 256.50L502.67 257.46L504.28 258.44L505.87 259.40L507.44 260.35L508.95 261.26L510.39 262.13L511.74 262.94L512.97 263.68L514.06 264.34L515.00 264.90L516.61 265.85L517.88 266.57L518.94 267.17L519.96 267.73L521.06 268.34L522.39 269.10L524.10 270.10L524.97 270.62L525.98 271.22L527.12 271.89L528.35 272.63L529.68 273.42L531.08 274.26L532.54 275.14L534.05 276.04L535.58 276.96L537.13 277.89L538.67 278.81L540.19 279.73L541.68 280.62L543.13 281.48L544.50 282.31L545.80 283.08L547.00 283.80L548.18 284.50L549.42 285.25L550.72 286.02L552.06 286.82L553.44 287.64L554.85 288.48L556.27 289.33L557.72 290.19L559.17 291.05L560.61 291.91L562.05 292.77L563.47 293.61L564.86 294.44L566.21 295.25L567.53 296.03L568.79 296.78L570.00 297.50L571.21 298.22L572.50 298.99L573.85 299.80L575.25 300.64L576.69 301.50L578.17 302.39L579.67 303.29L581.19 304.20L582.71 305.11L584.23 306.02L585.74 306.92L587.22 307.81L588.68 308.67L590.09 309.51L591.46 310.31L592.76 311.08L594.00 311.80L595.24 312.52L596.54 313.26L597.90 314.04L599.31 314.84L600.76 315.66L602.25 316.49L603.75 317.34L605.27 318.19L606.79 319.04L608.30 319.89L609.80 320.74L611.28 321.57L612.73 322.38L614.13 323.18L615.48 323.95L616.78 324.69L618.00 325.40L619.22 326.11L620.50 326.87L621.84 327.65L623.22 328.47L624.64 329.32L626.09 330.18L627.56 331.05L629.04 331.94L630.52 332.83L632.00 333.71L633.46 334.59L634.90 335.46L636.32 336.30L637.69 337.13L639.02 337.92L640.29 338.68L641.50 339.40L642.73 340.13L644.05 340.91L645.45 341.74L646.92 342.61L648.43 343.50L649.98 344.42L651.55 345.35L653.13 346.27L654.69 347.20L656.23 348.11L657.72 348.99L659.16 349.84L660.53 350.65L661.82 351.41L663.00 352.11L664.06 352.74L665.00 353.30L666.69 354.31L668.12 355.18L669.40 355.96L670.58 356.68L671.76 357.40L673.02 358.17L674.44 359.02L676.10 360.00L677.04 360.55L678.14 361.20L679.39 361.92L680.76 362.72L682.22 363.57L683.76 364.46L685.34 365.38L686.96 366.32L688.58 367.26L690.18 368.19L691.74 369.09L693.24 369.96L694.66 370.78L695.96 371.54L697.14 372.22L698.16 372.81L699.00 373.30L701.26 374.62L703.01 375.64L704.33 376.42L705.30 376.99L706.00 377.40"/>
<path class="ax" d="M89.50 456.50h6.5M699.50 456.50h-6.5"/>
<path class="ax" d="M89.50 370.10h6.5M699.50 370.10h-6.5"/>
<path class="ax" d="M89.50 283.70h6.5M699.50 283.70h-6.5"/>
<path class="ax" d="M89.50 197.30h6.5M699.50 197.30h-6.5"/>
<path class="ax" d="M89.50 110.90h6.5M699.50 110.90h-6.5"/>
<path class="ax" d="M89.50 24.50h6.5M699.50 24.50h-6.5"/>
<path class="ax" d="M89.50 456.50v-6.5M89.50 24.50v6.5"/>
<path class="ax" d="M211.50 456.50v-6.5M211.50 24.50v6.5"/>
<path class="ax" d="M333.50 456.50v-6.5M333.50 24.50v6.5"/>
<path class="ax" d="M455.50 456.50v-6.5M455.50 24.50v6.5"/>
<path class="ax" d="M577.50 456.50v-6.5M577.50 24.50v6.5"/>
<path class="ax" d="M699.50 456.50v-6.5M699.50 24.50v6.5"/>
<rect class="ax" x="89.5" y="24.5" width="610.0" height="432.0"/>
</svg></body></html>
